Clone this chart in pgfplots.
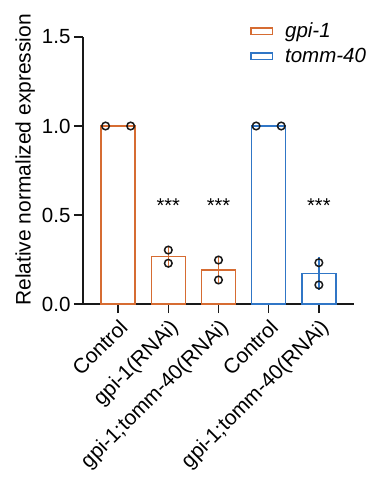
\documentclass[border=0pt]{standalone}
\usepackage{pgfplots}
\pgfplotsset{compat=1.18}
\usepackage{fontspec}
\setmainfont{Liberation Sans}
\definecolor{org}{RGB}{214,108,50}
\definecolor{blu}{RGB}{48,118,198}
\begin{document}
\begin{tikzpicture}
\begin{axis}[
  scale only axis, width=271pt, height=267pt,
  xmin=-0.7, xmax=4.7, ymin=0, ymax=1.5,
  axis x line*=bottom, axis y line*=left,
  ytick={0,0.5,1,1.5},
  /pgf/number format/assume math mode=true,
  yticklabel style={/pgf/number format/fixed, /pgf/number format/fixed zerofill, /pgf/number format/precision=1, font=\fontsize{20.5}{21}\selectfont},
  xtick={0,1,2,3,4},
  xticklabels={Control,gpi-1(RNAi),gpi-1;tomm-40(RNAi),Control,gpi-1;tomm-40(RNAi)},
  xticklabel style={rotate=45, anchor=north east, font=\fontsize{21}{21}\selectfont},
  tick align=outside, major tick length=9pt,
  tick style={line width=1.5pt, black!90},
  axis line style={line width=1.5pt, black!90},
  ylabel={Relative normalized expression},
  ylabel style={font=\fontsize{21}{21}\selectfont, at={(ticklabel cs:0.54)}},
  legend style={at={(0.616,1.061)}, anchor=north west, draw=none, fill=none, inner sep=0pt,
    font=\fontsize{20.5}{21}\selectfont, row sep=5pt, column sep=10pt, cells={anchor=west}},
  clip=false,
]
\addplot[ybar, bar width=0.68, bar shift=0pt, draw=org, fill=white, line width=1.5pt, forget plot]
  coordinates {(0,1) (1,0.266) (2,0.191)};
\addplot[ybar, bar width=0.68, bar shift=0pt, draw=blu, fill=white, line width=1.5pt, forget plot]
  coordinates {(3,1) (4,0.172)};
\addplot[draw=none, mark=none, forget plot,
  error bars/.cd, y dir=both, y explicit, error mark=none,
  error bar style={line width=1.5pt, org}]
  coordinates {(1,0.266) +- (0,0.055) (2,0.191) +- (0,0.08)};
\addplot[draw=none, mark=none, forget plot,
  error bars/.cd, y dir=both, y explicit, error mark=none,
  error bar style={line width=1.5pt, blu}]
  coordinates {(4,0.172) +- (0,0.093)};
\addplot[only marks, mark=o, mark size=3.8pt, black!90, line width=1.5pt, forget plot]
  coordinates {(-0.25,1) (0.25,1) (1,0.303) (1,0.229) (2,0.247) (2,0.135)
               (2.75,1) (3.25,1) (4,0.232) (4,0.107)};
\addlegendimage{legend image code/.code={\draw[org,line width=1.4pt,fill=white] (0.7pt,-3.2pt) rectangle (22.3pt,3.2pt);}}
\addlegendentry{\textit{gpi-1}}
\addlegendimage{legend image code/.code={\draw[blu,line width=1.4pt,fill=white] (0.7pt,-3.2pt) rectangle (22.3pt,3.2pt);}}
\addlegendentry{\textit{tomm-40}}
\node[font=\fontsize{20}{20}\selectfont] at (axis cs:1,0.55) {***};
\node[font=\fontsize{20}{20}\selectfont] at (axis cs:2,0.55) {***};
\node[font=\fontsize{20}{20}\selectfont] at (axis cs:4,0.55) {***};
\coordinate (O) at (rel axis cs:0,0);
\end{axis}
\pgfresetboundingbox
\path[use as bounding box] ([shift={(-83pt,-173pt)}]O) rectangle ([shift={(291pt,304pt)}]O);
\end{tikzpicture}
\end{document}
